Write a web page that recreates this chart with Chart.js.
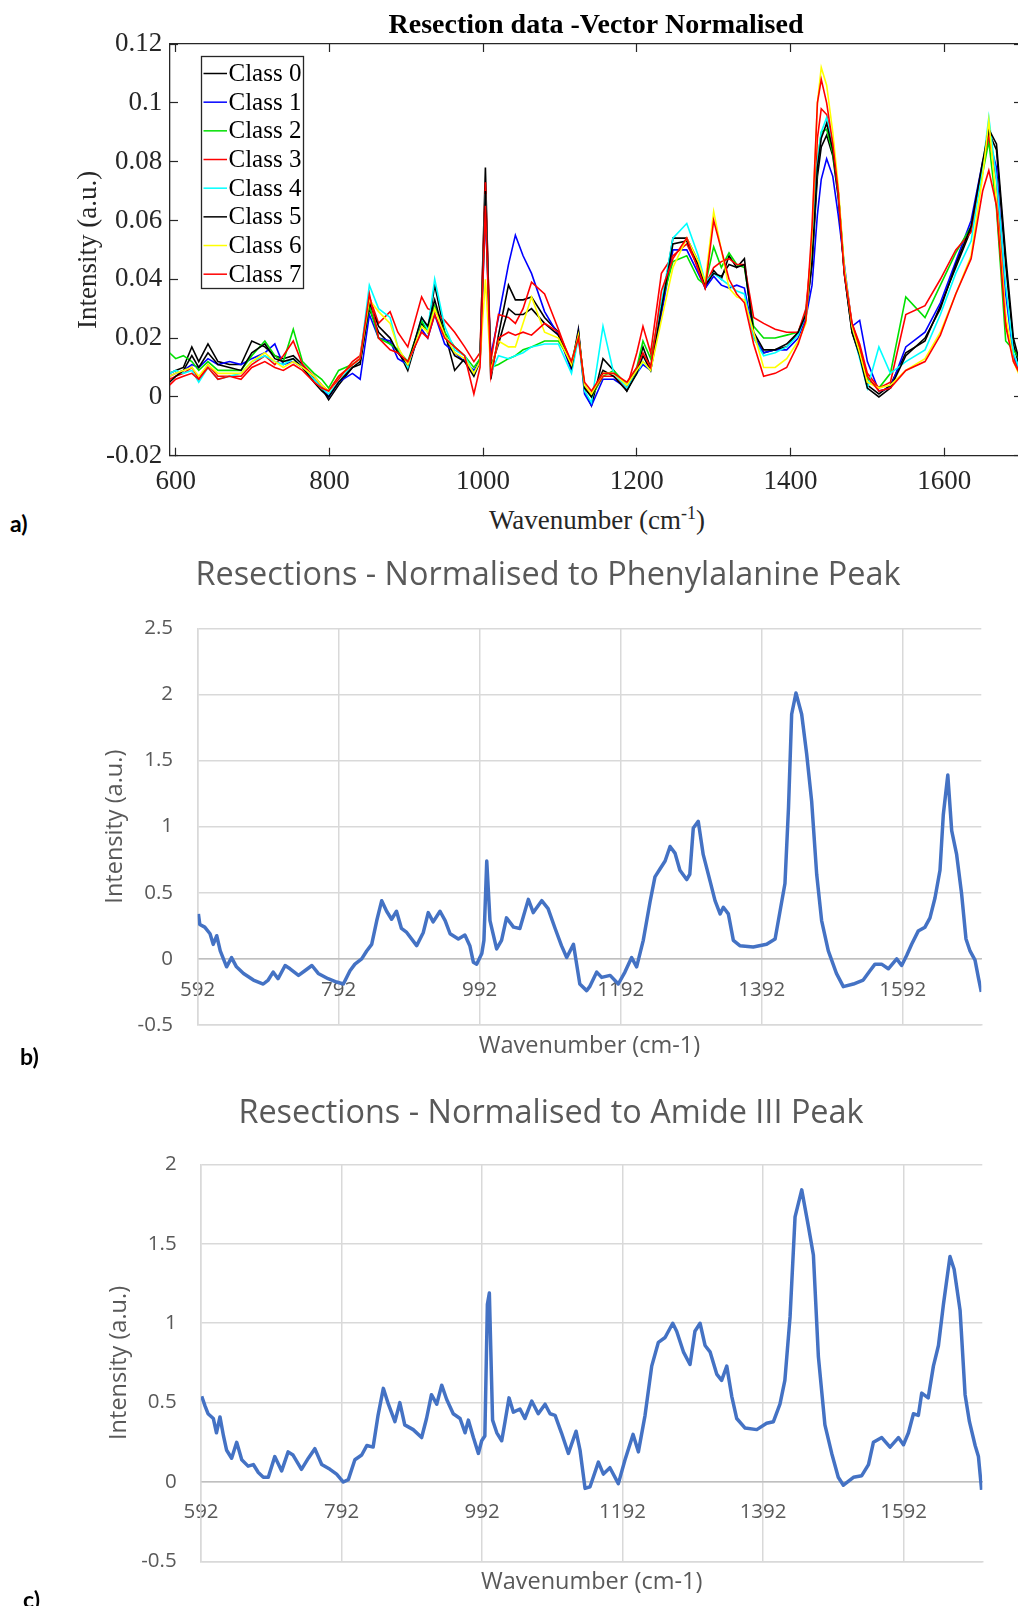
<!DOCTYPE html>
<html>
<head>
<meta charset="utf-8">
<script src="https://cdn.jsdelivr.net/npm/chart.js@4.4.0/dist/chart.umd.min.js"></script>
<style>
  body { margin: 0; background: #fff; overflow: hidden; }
  #page { position: relative; width: 1018px; height: 1606px; overflow: hidden; background: #fff; }
  canvas { position: absolute; left: 0; }
  .panel { position: absolute; font-family: Lato; font-weight: bold; font-size: 23px; line-height: 23px; color: #000; }
  #xlabA { position: absolute; left: 597px; top: 507px; transform: translateX(-50%); font-family: "Liberation Serif"; font-size: 27px; line-height: 27px; color: #262626; white-space: nowrap; }
  #xlabA span { position: relative; top: -10px; font-size: 18px; line-height: 0; }
</style>
</head>
<body>
<div id="page">
  <canvas id="chartA" width="1192" height="500" style="top:0px"></canvas>
  <canvas id="chartB" width="1096" height="540" style="top:540px"></canvas>
  <canvas id="chartC" width="1102" height="536" style="top:1070px"></canvas>
  <div id="xlabA">Wavenumber (cm<span>-1</span>)</div>
  <div class="panel" style="left:10px;top:512px">a)</div>
  <div class="panel" style="left:20px;top:1045px">b)</div>
  <div class="panel" style="left:23px;top:1588px">c)</div>
</div>
<script>
// panel a: vector normalised class means
const wnA = [592,600,610,621,630,642,655,670,685,699,716,729,740,753,765,780,790,799,812,830,840,852,864,879,889,902,920,928,937,950,963,976,988,996,1003,1010,1020,1033,1042,1052,1063,1080,1098,1115,1124,1132,1141,1156,1170,1187,1200,1208,1218,1232,1247,1265,1280,1289,1300,1310,1320,1330,1340,1352,1365,1380,1395,1410,1420,1428,1435,1440,1447,1455,1462,1470,1480,1490,1500,1515,1530,1550,1575,1595,1615,1635,1650,1658,1668,1680,1690,1700];

const class0 = [0.008,0.009,0.010,0.017,0.012,0.018,0.012,0.011,0.011,0.019, 0.017,0.014,0.013,0.014,0.011,0.006,0.003,-0.001,0.004,0.010, 0.012,0.030,0.022,0.018,0.016,0.009,0.025,0.022,0.038,0.022, 0.009,0.013,0.008,0.013,0.078,0.006,0.021,0.038,0.033,0.033, 0.034,0.027,0.022,0.010,0.023,0.002,-0.003,0.013,0.009,0.002, 0.009,0.017,0.010,0.030,0.054,0.054,0.046,0.037,0.043,0.040, 0.048,0.044,0.047,0.020,0.015,0.016,0.017,0.022,0.028,0.045, 0.075,0.085,0.089,0.082,0.068,0.042,0.022,0.014,0.004,0.001, 0.004,0.015,0.019,0.031,0.044,0.057,0.079,0.090,0.084,0.045,0.018,0.008];
const class1 = [0.007,0.008,0.009,0.011,0.010,0.013,0.011,0.012,0.011,0.013, 0.015,0.018,0.011,0.012,0.010,0.007,0.004,0.000,0.005,0.008, 0.006,0.028,0.020,0.019,0.013,0.011,0.023,0.020,0.028,0.018, 0.015,0.012,0.009,0.012,0.062,0.014,0.027,0.045,0.055,0.048, 0.042,0.029,0.021,0.009,0.022,0.001,-0.003,0.006,0.006,0.003, 0.008,0.011,0.009,0.028,0.050,0.050,0.042,0.037,0.041,0.038, 0.037,0.038,0.037,0.021,0.015,0.016,0.016,0.020,0.027,0.038, 0.062,0.074,0.081,0.075,0.062,0.045,0.024,0.026,0.012,0.002, 0.003,0.017,0.022,0.032,0.046,0.060,0.080,0.088,0.078,0.035,0.014,0.007];
const class2 = [0.015,0.013,0.014,0.012,0.009,0.012,0.009,0.009,0.009,0.014, 0.019,0.014,0.012,0.023,0.012,0.008,0.006,0.003,0.009,0.011, 0.013,0.031,0.020,0.018,0.016,0.012,0.026,0.022,0.031,0.022, 0.017,0.014,0.010,0.013,0.066,0.010,0.011,0.013,0.014,0.016, 0.017,0.019,0.019,0.012,0.021,0.004,0.000,0.007,0.009,0.004, 0.010,0.019,0.013,0.032,0.046,0.048,0.040,0.038,0.051,0.044, 0.049,0.045,0.044,0.024,0.020,0.020,0.021,0.022,0.029,0.048, 0.080,0.090,0.091,0.083,0.070,0.043,0.024,0.016,0.006,0.003, 0.008,0.034,0.027,0.038,0.049,0.058,0.076,0.087,0.064,0.019,0.016,0.012];
const class3 = [0.006,0.007,0.008,0.010,0.006,0.011,0.007,0.007,0.007,0.011, 0.014,0.011,0.014,0.019,0.011,0.007,0.004,0.002,0.006,0.012, 0.014,0.034,0.025,0.029,0.022,0.017,0.034,0.030,0.029,0.026, 0.022,0.017,0.012,0.015,0.073,0.012,0.028,0.027,0.025,0.030, 0.039,0.035,0.023,0.011,0.021,0.003,0.001,0.007,0.007,0.003, 0.015,0.024,0.015,0.042,0.048,0.052,0.044,0.038,0.044,0.046, 0.047,0.045,0.045,0.027,0.025,0.023,0.022,0.022,0.030,0.052, 0.088,0.098,0.096,0.086,0.070,0.043,0.025,0.018,0.008,0.003, 0.005,0.028,0.031,0.040,0.050,0.056,0.079,0.089,0.074,0.026,0.013,0.007];
const class4 = [0.008,0.009,0.008,0.009,0.005,0.010,0.006,0.007,0.008,0.012, 0.014,0.012,0.011,0.013,0.010,0.006,0.003,0.001,0.005,0.011, 0.013,0.038,0.030,0.027,0.017,0.010,0.027,0.023,0.040,0.024, 0.016,0.014,0.008,0.012,0.069,0.008,0.014,0.013,0.014,0.015, 0.017,0.018,0.018,0.008,0.020,0.002,-0.002,0.024,0.008,0.003, 0.008,0.012,0.009,0.032,0.054,0.059,0.048,0.039,0.042,0.040, 0.038,0.036,0.035,0.020,0.014,0.015,0.017,0.021,0.028,0.048, 0.080,0.090,0.095,0.086,0.070,0.044,0.023,0.013,0.003,0.017, 0.008,0.012,0.016,0.028,0.042,0.053,0.078,0.095,0.074,0.038,0.015,0.008];
const class5 = [0.005,0.007,0.009,0.014,0.010,0.015,0.011,0.010,0.009,0.015, 0.018,0.013,0.012,0.013,0.010,0.005,0.002,0.000,0.005,0.010, 0.011,0.032,0.024,0.020,0.015,0.011,0.027,0.024,0.033,0.021, 0.014,0.012,0.007,0.012,0.070,0.010,0.018,0.030,0.028,0.028, 0.030,0.025,0.021,0.010,0.022,0.003,0.000,0.009,0.007,0.002, 0.008,0.014,0.009,0.030,0.052,0.053,0.045,0.038,0.042,0.041, 0.045,0.044,0.045,0.022,0.016,0.016,0.018,0.022,0.028,0.046, 0.078,0.088,0.093,0.084,0.070,0.042,0.022,0.014,0.003,0.000, 0.003,0.014,0.020,0.030,0.045,0.058,0.080,0.091,0.086,0.048,0.020,0.010];
const class6 = [0.007,0.008,0.009,0.010,0.007,0.011,0.008,0.008,0.008,0.012, 0.015,0.012,0.010,0.012,0.010,0.007,0.004,0.002,0.007,0.011, 0.013,0.033,0.029,0.025,0.017,0.011,0.024,0.022,0.030,0.021, 0.015,0.013,0.008,0.012,0.040,0.009,0.019,0.017,0.017,0.025, 0.034,0.022,0.020,0.011,0.021,0.004,0.001,0.008,0.008,0.004, 0.009,0.012,0.009,0.026,0.044,0.054,0.046,0.039,0.063,0.050, 0.037,0.034,0.033,0.022,0.010,0.010,0.013,0.019,0.025,0.055, 0.100,0.112,0.106,0.090,0.072,0.044,0.024,0.015,0.005,0.003, 0.004,0.009,0.013,0.022,0.035,0.048,0.075,0.094,0.066,0.028,0.012,0.006];
const class7 = [0.004,0.006,0.007,0.008,0.006,0.010,0.006,0.007,0.006,0.010, 0.012,0.010,0.009,0.011,0.009,0.005,0.003,0.002,0.007,0.011, 0.013,0.035,0.020,0.016,0.015,0.012,0.022,0.020,0.028,0.020, 0.017,0.014,0.001,0.010,0.065,0.007,0.020,0.022,0.021,0.022, 0.021,0.025,0.022,0.012,0.020,0.005,0.002,0.008,0.008,0.005, 0.010,0.015,0.010,0.036,0.047,0.054,0.043,0.037,0.060,0.050, 0.040,0.035,0.032,0.018,0.007,0.008,0.010,0.018,0.026,0.058, 0.100,0.108,0.100,0.086,0.070,0.042,0.025,0.017,0.007,0.002, 0.003,0.009,0.012,0.021,0.035,0.047,0.070,0.077,0.065,0.024,0.012,0.007];

const classLabels = ['Class 0','Class 1','Class 2','Class 3','Class 4','Class 5','Class 6','Class 7'];
const classColors = ['#000000','#0000ff','#00e000','#ff0000','#00ffff','#000000','#ffff00','#ff0000'];
const xTicksA = [600,800,1000,1200,1400,1600];
const yTicksA = [-0.02,0,0.02,0.04,0.06,0.08,0.1,0.12];

// panel b: normalised to phenylalanine peak
const wnB = [593,595,602,609.5,614,619,624,633,640,647,657,671,685,692,699,706,716,723,735,744,754,763,777,789,798.6,808,815,824.6,831.7,838.8,846,853,860,867,874,881,888.5,902.6,912,919,926,935.7,943,950,961.7,971,978,983,987.7,995,998,1002,1006.6,1016,1023,1030,1040,1049,1061,1068,1080,1089,1099,1108,1115.4,1125,1134,1143.7,1148,1158,1165,1177,1188.6,1198,1207.5,1214.6,1224,1233.6,1240.6,1247.7,1255,1262,1269,1276,1285.6,1290,1295,1302,1309,1318.7,1325.8,1333,1337.6,1344.7,1351.8,1361,1380,1399,1411,1418,1425,1430,1434.5,1440.6,1448.7,1455.8,1462.9,1470,1477,1486.5,1498,1507.8,1522,1536,1545.6,1552.7,1562,1571.6,1583.5,1590.5,1597.6,1604.7,1614,1623.6,1630.7,1637.8,1644.9,1649.6,1656,1661.5,1668.5,1675.6,1681.8,1687.5,1694.6,1699.3,1703.5];
const intB = [0.34,0.26,0.24,0.19,0.11,0.175,0.06,-0.06,0.01,-0.06,-0.11,-0.16,-0.19,-0.16,-0.10,-0.15,-0.05,-0.075,-0.125,-0.09,-0.05,-0.11,-0.15,-0.175,-0.19,-0.09,-0.04,0.0,0.06,0.11,0.29,0.44,0.36,0.30,0.36,0.23,0.20,0.10,0.20,0.35,0.28,0.36,0.29,0.19,0.15,0.18,0.10,-0.025,-0.04,0.04,0.14,0.74,0.29,0.075,0.14,0.31,0.24,0.23,0.45,0.35,0.44,0.38,0.23,0.10,0.01,0.11,-0.19,-0.24,-0.21,-0.10,-0.14,-0.125,-0.19,-0.10,0.01,-0.06,0.14,0.43,0.62,0.68,0.74,0.85,0.80,0.67,0.60,0.64,0.99,1.04,0.79,0.59,0.44,0.34,0.39,0.34,0.14,0.10,0.09,0.11,0.15,0.36,0.57,1.14,1.85,2.01,1.85,1.55,1.19,0.64,0.29,0.06,-0.11,-0.21,-0.19,-0.16,-0.09,-0.04,-0.04,-0.075,0.0,-0.05,0.025,0.11,0.21,0.24,0.31,0.46,0.67,1.09,1.39,0.97,0.79,0.49,0.15,0.06,-0.01,-0.14,-0.25];
const xTicksB = [592,792,992,1192,1392,1592];
const yTicksB = [-0.5,0,0.5,1,1.5,2,2.5];

// panel c: normalised to amide III peak
const wnC = [593,597.7,602,609.6,614,619,624,628.5,635.6,642.8,650,659,666.5,673.6,680.7,687.8,697,706.8,716,723,735,744.8,754,763.8,775.6,785,794.6,801.7,811,820.7,828,837,844,851.5,858.7,868,875,882,894,906,913,920,927.5,934.6,941.7,951,960.7,967.8,972.5,979.7,986.8,991.5,996,999.6,1002.4,1007,1013,1020,1024.7,1030.4,1036.6,1046,1053,1062.7,1072,1081.7,1088.8,1096,1105,1114.9,1125.8,1131.5,1138.6,1145.7,1157.6,1164.7,1174,1186,1195.5,1207,1214.5,1224,1233.5,1243,1252.5,1263.4,1269,1278.6,1288,1295,1302.3,1309.4,1316.5,1326,1333,1340.3,1347.4,1354.5,1366.4,1383,1397,1406.7,1416,1423,1430.4,1437.5,1447,1456.5,1463.6,1470.7,1480,1489.7,1499,1506.3,1520.6,1532.4,1542,1549,1560.9,1572.7,1584.6,1591.8,1598.9,1606,1613,1617.8,1627,1634.4,1641.6,1648.7,1658,1663.9,1672.4,1679.5,1685.7,1693.8,1698.5,1703];
const intC = [0.54,0.48,0.43,0.40,0.31,0.41,0.29,0.20,0.15,0.25,0.14,0.10,0.11,0.06,0.03,0.03,0.16,0.07,0.19,0.17,0.08,0.15,0.21,0.11,0.08,0.05,0.0,0.015,0.14,0.17,0.23,0.22,0.42,0.59,0.49,0.38,0.50,0.36,0.33,0.28,0.40,0.55,0.49,0.61,0.52,0.43,0.40,0.31,0.39,0.28,0.18,0.26,0.29,1.12,1.19,0.39,0.31,0.26,0.38,0.53,0.44,0.46,0.40,0.51,0.43,0.49,0.43,0.42,0.31,0.18,0.32,0.20,-0.04,-0.03,0.125,0.05,0.09,-0.01,0.14,0.30,0.19,0.42,0.73,0.88,0.91,1.00,0.95,0.82,0.74,0.95,1.00,0.86,0.82,0.68,0.64,0.73,0.54,0.40,0.34,0.33,0.37,0.38,0.49,0.64,1.04,1.67,1.84,1.61,1.43,0.79,0.36,0.18,0.03,-0.02,0.03,0.04,0.11,0.25,0.28,0.22,0.28,0.235,0.31,0.43,0.42,0.56,0.53,0.73,0.86,1.12,1.42,1.34,1.08,0.55,0.38,0.23,0.16,-0.05];
const yTicksC = [-0.5,0,0.5,1,1.5,2];

const classValues = [class0, class1, class2, class3, class4, class5, class6, class7];

function toPoints(xs, ys) {
  return xs.map((x, i) => ({ x: x, y: ys[i] }));
}
function fixTicks(list) {
  return (scale) => { scale.ticks = list.map((v) => ({ value: v })); };
}

// ---------- panel a (matlab style) ----------
const serif = { family: '"Liberation Serif"', size: 27 };
const ink = '#262626';

function matlabAxis(extra) {
  return Object.assign({
    type: 'linear',
    grid: { drawOnChartArea: false, tickLength: -8, tickColor: ink, tickWidth: 1.2 },
    border: { color: ink, width: 1.3 },
  }, extra);
}

// legend box drawn inside the plot, like matlab's 'northwest' legend
const legendBoxA = {
  id: 'legendBoxA',
  afterDatasetsDraw(chart) {
    const ctx = chart.ctx;
    ctx.save();
    ctx.fillStyle = '#fff';
    ctx.fillRect(201, 56.5, 103, 232);
    ctx.strokeStyle = ink;
    ctx.lineWidth = 1.3;
    ctx.strokeRect(201.5, 56.5, 102, 232);
    ctx.font = '25px "Liberation Serif"';
    ctx.textBaseline = 'middle';
    chart.data.datasets.forEach((ds, i) => {
      const y = 73.5 + i * 28.67;
      ctx.strokeStyle = ds.borderColor;
      ctx.lineWidth = 1.5;
      ctx.beginPath();
      ctx.moveTo(203.5, y);
      ctx.lineTo(227, y);
      ctx.stroke();
      ctx.fillStyle = '#000';
      ctx.fillText(ds.label, 228.5, y + 1);
    });
    ctx.restore();
  }
};

new Chart(document.getElementById('chartA'), {
  type: 'line',
  data: {
    datasets: classValues.map((vals, i) => ({
      label: classLabels[i],
      data: toPoints(wnA, vals),
      borderColor: classColors[i],
      borderWidth: 1.6,
      pointRadius: 0,
      tension: 0,
      order: 7 - i,
    })),
  },
  options: {
    responsive: false,
    animation: false,
    devicePixelRatio: 1,
    events: [],
    layout: { padding: 0, autoPadding: false },
    plugins: {
      legend: { display: false },
      tooltip: { enabled: false },
      title: {
        display: true,
        text: 'Resection data -Vector Normalised',
        color: '#000',
        font: { family: '"Liberation Serif"', size: 28, weight: 'bold' },
        padding: { top: 8.5, bottom: 1.9 },
      },
    },
    scales: {
      x: matlabAxis({
        position: 'bottom', min: 592.6, max: 1701.2,
        afterBuildTicks: fixTicks(xTicksA),
        afterFit: (s) => { s.height = 44.3; },
        ticks: { font: serif, color: ink, padding: 18, maxRotation: 0, autoSkip: false, callback: (v) => String(v) },
      }),
      y: matlabAxis({
        position: 'left', min: -0.02, max: 0.12,
        afterBuildTicks: fixTicks(yTicksA),
        afterFit: (s) => { s.width = 170; },
        ticks: { font: serif, color: ink, padding: 15.7, autoSkip: false, callback: (v) => String(v) },
        title: { display: true, text: 'Intensity (a.u.)', font: serif, color: ink, padding: { top: 72.8, bottom: 0 } },
      }),
      x2: matlabAxis({
        position: 'top', min: 592.6, max: 1701.2,
        afterBuildTicks: fixTicks(xTicksA),
        afterFit: (s) => { s.height = 0; },
        ticks: { display: false },
      }),
      // right box axis; its width also centres the title over the plot
      y2: matlabAxis({
        position: 'right', min: -0.02, max: 0.12,
        afterBuildTicks: fixTicks(yTicksA),
        afterFit: (s) => { s.width = 170; },
        ticks: { display: false },
      }),
    },
  },
  plugins: [legendBoxA],
});

// ---------- panels b and c (excel style) ----------
const grey = '#595959';
const tickFont = { family: '"Open Sans"', size: 20.5 };
const axisFont = { family: '"Open Sans"', size: 23.5 };

function excelChart(id, cfg) {
  return new Chart(document.getElementById(id), {
    type: 'line',
    data: {
      datasets: [{
        data: toPoints(cfg.xs, cfg.ys),
        borderColor: '#4472c4',
        borderWidth: 3.5,
        borderJoinStyle: 'round',
        pointRadius: 0,
        tension: 0,
      }],
    },
    options: {
      responsive: false,
      animation: false,
      devicePixelRatio: 1,
      events: [],
      layout: { padding: 0, autoPadding: false },
      plugins: {
        legend: { display: false },
        tooltip: { enabled: false },
        title: {
          display: true,
          text: cfg.title,
          color: grey,
          font: { family: '"Open Sans"', size: 32.4, weight: 'normal' },
          padding: cfg.titlePad,
        },
      },
      scales: {
        x: {
          type: 'linear', position: 'bottom', min: 592, max: cfg.xMax,
          afterBuildTicks: fixTicks(xTicksB),
          afterFit: (s) => { s.height = cfg.xHeight; },
          ticks: { display: false },
          grid: { color: '#d9d9d9', lineWidth: 1.5, drawTicks: false },
          border: { color: '#d9d9d9', width: 1.5 },
          title: { display: true, text: 'Wavenumber (cm-1)', color: grey, font: axisFont, padding: { top: 0, bottom: cfg.xTitlePad } },
        },
        x0: {
          type: 'linear', axis: 'x', position: { y: 0 }, min: 592, max: cfg.xMax,
          afterBuildTicks: fixTicks(xTicksB),
          afterFit: (s) => { s.height = 0; },
          ticks: { color: grey, font: tickFont, padding: cfg.labelPad, maxRotation: 0, autoSkip: false, callback: (v) => String(v) },
          grid: { drawOnChartArea: false, drawTicks: false },
          border: { color: '#bfbfbf', width: 1.5 },
        },
        y: {
          type: 'linear', position: 'left', min: -0.5, max: cfg.yMax,
          afterBuildTicks: fixTicks(cfg.yTicks),
          afterFit: (s) => { s.width = cfg.yWidth; },
          ticks: { color: grey, font: tickFont, padding: cfg.yTickPad, autoSkip: false, callback: (v) => String(v) },
          grid: { color: '#d9d9d9', lineWidth: 1.5, drawTicks: false },
          border: { color: '#d9d9d9', width: 1.5 },
          title: { display: true, text: 'Intensity (a.u.)', color: grey, font: axisFont, padding: { top: cfg.yTitlePad, bottom: 0 } },
        },
        // empty right-hand space, so the full-width title sits where excel put it
        yr: {
          type: 'linear', position: 'right', min: 0, max: 1,
          afterFit: (s) => { s.width = cfg.rightSpace; },
          ticks: { display: false },
          grid: { display: false, drawTicks: false },
          border: { display: false },
        },
      },
    },
  });
}

excelChart('chartB', {
  xs: wnB, ys: intB, yTicks: yTicksB, yMax: 2.5, xMax: 1703.5,
  title: 'Resections - Normalised to Phenylalanine Peak',
  titlePad: { top: 16.6, bottom: 32.8 },
  rightSpace: 114.7, yWidth: 197.7, yTickPad: 24.7, yTitlePad: 100.9,
  xHeight: 55, xTitlePad: 19.9, labelPad: 19.4,
});

excelChart('chartC', {
  xs: wnC, ys: intC, yTicks: yTicksC, yMax: 2, xMax: 1704,
  title: 'Resections - Normalised to Amide III Peak',
  titlePad: { top: 24.6, bottom: 31 },
  rightSpace: 119.7, yWidth: 201, yTickPad: 24.3, yTitlePad: 104.9,
  xHeight: 44.6, xTitlePad: 9.9, labelPad: 18.3,
});
</script>
</body>
</html>
